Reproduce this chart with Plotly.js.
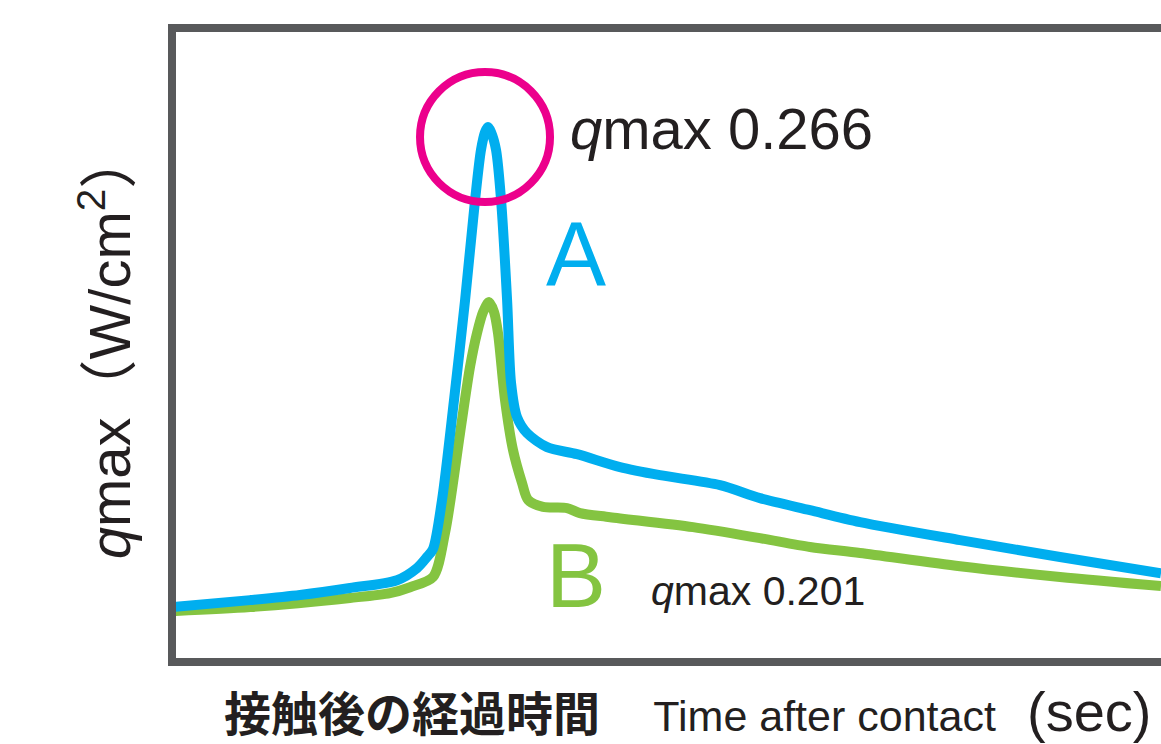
<!DOCTYPE html>
<html>
<head>
<meta charset="utf-8">
<script src="https://cdn.plot.ly/plotly-3.0.1.min.js"></script>
<style>html,body{margin:0;padding:0;background:#fff;}#chart{width:1161px;height:744px;}</style>
</head>
<body>
<div id="chart"></div>
<script>
// Time after contact (sec, schematic scale)
const timeA = [0.000, 0.789, 1.294, 1.799, 2.275, 2.477, 2.578, 2.639, 2.730, 2.851, 2.963, 3.064, 3.124, 3.165, 3.195, 3.226, 3.276, 3.327, 3.388, 3.428, 3.488, 3.590, 3.792, 4.095, 4.530, 4.934, 5.541, 5.945, 6.451, 6.957, 7.968, 8.979, 10.000];
const qmaxA = [0.0877, 0.0903, 0.0922, 0.0948, 0.0977, 0.1022, 0.1063, 0.1093, 0.1275, 0.1646, 0.2017, 0.2389, 0.2575, 0.2641, 0.2660, 0.2641, 0.2575, 0.2389, 0.2017, 0.1709, 0.1583, 0.1523, 0.1471, 0.1445, 0.1397, 0.1367, 0.1330, 0.1282, 0.1237, 0.1193, 0.1126, 0.1063, 0.1003];

const timeB = [0.000, 0.789, 1.799, 2.204, 2.407, 2.639, 2.760, 2.912, 3.013, 3.084, 3.145, 3.205, 3.256, 3.296, 3.367, 3.448, 3.539, 3.600, 3.751, 3.994, 4.125, 4.429, 5.268, 5.945, 6.451, 6.957, 7.968, 8.979, 10.000];
const qmaxB = [0.0862, 0.0877, 0.0911, 0.0929, 0.0951, 0.0989, 0.1152, 0.1523, 0.1769, 0.1895, 0.1973, 0.2010, 0.1973, 0.1895, 0.1646, 0.1460, 0.1338, 0.1275, 0.1249, 0.1245, 0.1226, 0.1211, 0.1174, 0.1133, 0.1100, 0.1078, 0.1029, 0.0989, 0.0955];

const seriesNames = ['A', 'B'];
const peakLabels = ['<i>q</i>max 0.266', '<i>q</i>max 0.201'];
const xTitle = "<span style='font-size:47px'><b>接触後の経過時間</b></span><span style='font-size:48px'>\u00a0\u00a0\u00a0\u00a0</span>Time after contact<span style='font-size:56px'>\u00a0\u00a0(sec)</span>";
const yTitle = '<i>q</i>max（W/cm<sup>2</sup>）';

const blue = '#00aeef', green = '#84c441', ink = '#231f20', frame = '#58595b';
const fontFam = 'Liberation Sans, Noto Sans CJK JP, sans-serif';

const iPeakA = qmaxA.indexOf(Math.max(...qmaxA));

const traces = [
  {x: timeB, y: qmaxB, name: seriesNames[1], mode: 'lines', line: {color: green, width: 10, shape: 'spline', smoothing: 0.8}},
  {x: timeA, y: qmaxA, name: seriesNames[0], mode: 'lines', line: {color: blue, width: 10, shape: 'spline', smoothing: 0.8}}
];

const layout = {
  width: 1161, height: 744,
  margin: {l: 176, r: 0, t: 32, b: 86},
  paper_bgcolor: '#fff', plot_bgcolor: '#fff',
  showlegend: false,
  font: {family: fontFam, color: ink},
  xaxis: {range: [0.04, 10], showgrid: false, zeroline: false, showticklabels: false, ticks: '',
          showline: true, linewidth: 8, linecolor: frame, mirror: true},
  yaxis: {range: [0.0688, 0.3013], showgrid: false, zeroline: false, showticklabels: false, ticks: '',
          showline: true, linewidth: 8, linecolor: frame, mirror: false,
          title: {text: yTitle, font: {size: 58, color: ink, family: fontFam}, standoff: 22}},
  shapes: [{
    type: 'circle', xref: 'x', yref: 'y', xsizemode: 'pixel', ysizemode: 'pixel',
    xanchor: timeA[iPeakA], yanchor: qmaxA[iPeakA],
    x0: -68, x1: 62, y0: -75, y1: 55,
    line: {color: '#ec008c', width: 8}, fillcolor: 'rgba(0,0,0,0)'
  }],
  annotations: [
    {xref: 'paper', yref: 'paper', x: (222 - 176) / 985, y: (658 - 712) / 626, xanchor: 'left', yanchor: 'middle',
     text: xTitle, showarrow: false, font: {size: 43, color: ink, family: fontFam}},
    {xref: 'paper', yref: 'paper', x: (576 - 176) / 985, y: (658 - 254) / 626, xanchor: 'center', yanchor: 'middle',
     text: seriesNames[0], showarrow: false, font: {size: 90, color: blue, family: fontFam}},
    {xref: 'paper', yref: 'paper', x: (576 - 176) / 985, y: (658 - 576) / 626, xanchor: 'center', yanchor: 'middle',
     text: seriesNames[1], showarrow: false, font: {size: 90, color: green, family: fontFam}},
    {xref: 'paper', yref: 'paper', x: (568 - 176) / 985, y: (658 - 128) / 626, xanchor: 'left', yanchor: 'middle',
     text: peakLabels[0], showarrow: false, font: {size: 58, color: ink, family: fontFam}},
    {xref: 'paper', yref: 'paper', x: (649 - 176) / 985, y: (658 - 591) / 626, xanchor: 'left', yanchor: 'middle',
     text: peakLabels[1], showarrow: false, font: {size: 41, color: ink, family: fontFam}}
  ]
};

Plotly.newPlot('chart', traces, layout, {staticPlot: true, displayModeBar: false});
</script>
</body>
</html>
